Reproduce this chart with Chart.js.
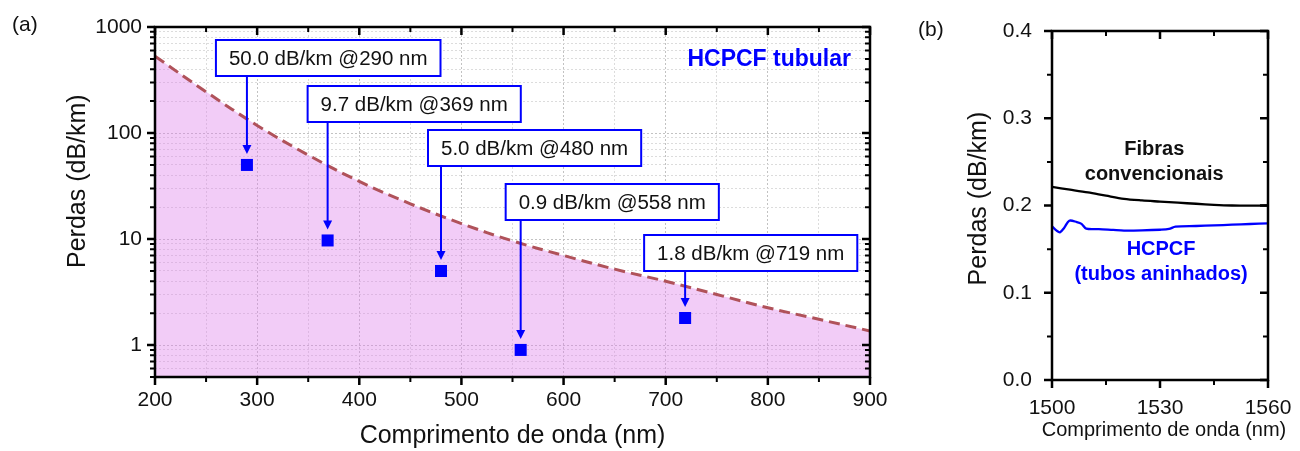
<!DOCTYPE html>
<html>
<head>
<meta charset="utf-8">
<script src="https://cdn.jsdelivr.net/npm/chart.js@4.4.1/dist/chart.umd.min.js"></script>
<style>
  body { margin: 0; background: #fff; }
  #wrapA { position: absolute; left: 0; top: 0; width: 900px; height: 451px; }
  #wrapB { position: absolute; left: 900px; top: 0; width: 400px; height: 451px; }
</style>
</head>
<body>
<div id="wrapA"><canvas id="chartA"></canvas></div>
<div id="wrapB"><canvas id="chartB"></canvas></div>
<script>
// ---- panel (a): HCPCF tubular ----
var curveWavelengths = [200, 250, 300, 350, 400, 450, 500, 550, 600, 650, 700, 750, 800, 850, 900];
var curveLoss = [530, 245, 118, 62, 35, 21.5, 14, 9.6, 7.0, 5.2, 4.0, 3.0, 2.25, 1.75, 1.36];
var pointWavelengths = [290, 369, 480, 558, 719];
var pointLoss = [50.0, 9.7, 5.0, 0.9, 1.8];
var pointLabels = ['50.0 dB/km @290 nm', '9.7 dB/km @369 nm', '5.0 dB/km @480 nm', '0.9 dB/km @558 nm', '1.8 dB/km @719 nm'];
var xMajorA = [200, 300, 400, 500, 600, 700, 800, 900];
var xMinorA = [250, 350, 450, 550, 650, 750, 850];
var yMajorA = [1, 10, 100, 1000];
var yMinorA = [0.5, 0.6, 0.7, 0.8, 0.9, 2, 3, 4, 5, 6, 7, 8, 9, 20, 30, 40, 50, 60, 70, 80, 90, 200, 300, 400, 500, 600, 700, 800, 900];

// ---- panel (b): 1500-1560 nm ----
var convWavelengths = [1500, 1505, 1510, 1515, 1520, 1525, 1530, 1535, 1540, 1545, 1550, 1555, 1560];
var convLoss = [0.2213, 0.2182, 0.2150, 0.2112, 0.2076, 0.2058, 0.2045, 0.2032, 0.2020, 0.2008, 0.2000, 0.1998, 0.2000];
var hcWavelengths = [1500, 1501.2, 1502.2, 1503.4, 1504.8, 1506.9, 1508.2, 1509.5, 1513, 1517, 1520, 1525, 1530, 1532.5, 1534.3, 1540, 1545, 1550, 1555, 1560];
var hcLoss = [0.1761, 0.1715, 0.1693, 0.1745, 0.1826, 0.181, 0.179, 0.1735, 0.173, 0.172, 0.1713, 0.1715, 0.1722, 0.1731, 0.1758, 0.1765, 0.1772, 0.178, 0.1788, 0.1795];
var xMajorB = [1500, 1530, 1560];
var xMinorB = [1515, 1545];
var yMajorB = [0.0, 0.1, 0.2, 0.3, 0.4];
var yMinorB = [0.05, 0.15, 0.25, 0.35];

var FONT = '"Liberation Sans", Arial, sans-serif';
var INK = '#111';

function setTicks(values) {
  return function (scale) {
    scale.ticks = values.slice().sort(function (a, b) { return a - b; })
      .map(function (v) { return { value: v }; });
  };
}

function isIn(list, v) {
  return list.some(function (m) { return Math.abs(m - v) < 1e-9; });
}

// frame + tick marks (outside bottom/left, inside top/right)
function frameTicks(t) {
  return {
    id: 'frameTicks',
    afterDatasetsDraw: function (chart) {
      var ctx = chart.ctx, a = chart.chartArea;
      var sx = chart.scales.x, sy = chart.scales.y;
      ctx.save();
      ctx.strokeStyle = '#000';
      function xt(v, len, w) {
        var p = sx.getPixelForValue(v);
        ctx.lineWidth = w;
        ctx.beginPath();
        ctx.moveTo(p, a.bottom); ctx.lineTo(p, a.bottom + len);
        ctx.moveTo(p, a.top); ctx.lineTo(p, a.top + len);
        ctx.stroke();
      }
      function yt(v, len, w) {
        var p = sy.getPixelForValue(v);
        ctx.lineWidth = w;
        ctx.beginPath();
        ctx.moveTo(a.left, p); ctx.lineTo(a.left - len, p);
        ctx.moveTo(a.right, p); ctx.lineTo(a.right - len, p);
        ctx.stroke();
      }
      t.xMajor.forEach(function (v) { xt(v, 8, 2.5); });
      t.xMinor.forEach(function (v) { xt(v, 5, 2); });
      t.yMajor.forEach(function (v) { yt(v, 8, 2.5); });
      t.yMinor.forEach(function (v) { yt(v, 5, 2); });
      ctx.lineWidth = 2.5;
      ctx.strokeRect(a.left, a.top, a.right - a.left, a.bottom - a.top);
      ctx.restore();
    }
  };
}

// callout boxes with arrows, panel (a)
var calloutLayout = [{ dx: 31, top: 13 }, { dx: 20, top: 59 }, { dx: 13, top: 103 }, { dx: 15, top: 157 }, { dx: 41, top: 208 }];
var callouts = {
  id: 'callouts',
  afterDraw: function (chart) {
    var ctx = chart.ctx, a = chart.chartArea;
    var sx = chart.scales.x, sy = chart.scales.y;
    ctx.save();
    ctx.font = '20.5px ' + FONT;
    ctx.textBaseline = 'middle';
    ctx.textAlign = 'center';
    pointLabels.forEach(function (txt, i) {
      var px = sx.getPixelForValue(pointWavelengths[i]);
      var py = sy.getPixelForValue(pointLoss[i]);
      var w = ctx.measureText(txt).width + 26, h = 36;
      var left = px - calloutLayout[i].dx, top = a.top + calloutLayout[i].top;
      var tip = py - 11;
      ctx.strokeStyle = '#0000ff';
      ctx.fillStyle = '#0000ff';
      ctx.lineWidth = 2;
      ctx.beginPath();
      ctx.moveTo(px, top + h); ctx.lineTo(px, tip - 8);
      ctx.stroke();
      ctx.beginPath();
      ctx.moveTo(px - 4.5, tip - 9); ctx.lineTo(px + 4.5, tip - 9); ctx.lineTo(px, tip);
      ctx.closePath(); ctx.fill();
      ctx.fillStyle = '#fff';
      ctx.fillRect(left, top, w, h);
      ctx.strokeRect(left, top, w, h);
      ctx.fillStyle = INK;
      ctx.fillText(txt, left + w / 2, top + h / 2 + 1);
    });
    ctx.font = 'bold 23px ' + FONT;
    ctx.fillStyle = '#0000ff';
    ctx.textAlign = 'right';
    ctx.fillText('HCPCF tubular', a.right - 19, a.top + 33);
    ctx.font = '21px ' + FONT;
    ctx.fillStyle = INK;
    ctx.textAlign = 'left';
    ctx.fillText('(a)', 12, 25);
    ctx.restore();
  }
};

var notesB = {
  id: 'notesB',
  afterDraw: function (chart) {
    var ctx = chart.ctx, a = chart.chartArea;
    var sx = chart.scales.x, sy = chart.scales.y;
    ctx.save();
    ctx.textAlign = 'center';
    ctx.textBaseline = 'middle';
    ctx.font = 'bold 20px ' + FONT;
    ctx.fillStyle = INK;
    var x1 = sx.getPixelForValue(1528.4), y1 = sy.getPixelForValue(0.264);
    ctx.fillText('Fibras', x1, y1);
    ctx.fillText('convencionais', x1, y1 + 25);
    ctx.fillStyle = '#0000ff';
    var x2 = sx.getPixelForValue(1530.3), y2 = sy.getPixelForValue(0.15);
    ctx.fillText('HCPCF', x2, y2);
    ctx.fillText('(tubos aninhados)', x2, y2 + 25);
    // x axis title wider than the plot
    ctx.fillStyle = INK;
    ctx.font = '20px ' + FONT;
    ctx.fillText('Comprimento de onda (nm)', (a.left + a.right) / 2 + 4, 430);
    ctx.font = '21px ' + FONT;
    ctx.textAlign = 'left';
    ctx.fillText('(b)', 18, 30);
    ctx.restore();
  }
};

function gridColor(majors) {
  return function (c) {
    return c.tick && isIn(majors, c.tick.value) ? '#c2c2c2' : '#dcdcdc';
  };
}

new Chart(document.getElementById('chartA'), {
  data: {
    datasets: [
      {
        type: 'line',
        data: curveWavelengths.map(function (w, i) { return { x: w, y: curveLoss[i] }; }),
        borderColor: '#b0525a',
        borderWidth: 3,
        borderDash: [11, 6],
        backgroundColor: 'rgba(222, 128, 235, 0.4)',
        fill: 'start',
        pointRadius: 0,
        tension: 0.4,
        order: 2
      },
      {
        type: 'scatter',
        data: pointWavelengths.map(function (w, i) { return { x: w, y: pointLoss[i] }; }),
        pointStyle: 'rect',
        pointRadius: 8.5,
        backgroundColor: '#0000ff',
        borderWidth: 0,
        order: 1
      }
    ]
  },
  options: {
    responsive: true,
    maintainAspectRatio: false,
    animation: false,
    layout: { padding: { top: 27, right: 30, left: 0, bottom: 0 } },
    plugins: { legend: { display: false }, tooltip: { enabled: false } },
    scales: {
      x: {
        type: 'linear', min: 200, max: 900,
        afterBuildTicks: setTicks(xMajorA.concat(xMinorA)),
        afterFit: function (s) { s.height = 74; },
        grid: { color: gridColor(xMajorA), lineWidth: 1, drawTicks: false },
        border: { display: false, dash: [2, 2] },
        ticks: {
          autoSkip: false, maxRotation: 0, padding: 11, color: INK,
          font: { family: FONT, size: 21 },
          callback: function (v) { return isIn(xMajorA, v) ? String(v) : ''; }
        },
        title: {
          display: true, text: 'Comprimento de onda (nm)', color: INK,
          font: { family: FONT, size: 25, lineHeight: 1 },
          padding: { top: 0, bottom: 2 }
        }
      },
      y: {
        type: 'logarithmic', min: 0.5, max: 1000,
        afterBuildTicks: setTicks(yMajorA.concat(yMinorA)),
        afterFit: function (s) { s.width = 155; },
        grid: { color: gridColor(yMajorA), lineWidth: 1, drawTicks: false },
        border: { display: false, dash: [2, 2] },
        ticks: {
          autoSkip: false, padding: 13, color: INK,
          font: { family: FONT, size: 21 },
          callback: function (v) { return isIn(yMajorA, v) ? String(v) : ''; }
        },
        title: {
          display: true, text: '      Perdas (dB/km)', color: INK,
          font: { family: FONT, size: 25, lineHeight: 1 },
          padding: { top: 66 }
        }
      }
    }
  },
  plugins: [frameTicks({ xMajor: xMajorA, xMinor: xMinorA, yMajor: yMajorA, yMinor: yMinorA }), callouts]
});

new Chart(document.getElementById('chartB'), {
  type: 'line',
  data: {
    datasets: [
      {
        label: 'Fibras convencionais',
        data: convWavelengths.map(function (w, i) { return { x: w, y: convLoss[i] }; }),
        borderColor: '#000', borderWidth: 2.3, pointRadius: 0, tension: 0.3
      },
      {
        label: 'HCPCF (tubos aninhados)',
        data: hcWavelengths.map(function (w, i) { return { x: w, y: hcLoss[i] }; }),
        borderColor: '#0000ff', borderWidth: 2.3, pointRadius: 0, tension: 0.3
      }
    ]
  },
  options: {
    responsive: true,
    maintainAspectRatio: false,
    animation: false,
    layout: { padding: { top: 31, right: 32, left: 0, bottom: 0 } },
    plugins: { legend: { display: false }, tooltip: { enabled: false } },
    scales: {
      x: {
        type: 'linear', min: 1500, max: 1560,
        afterBuildTicks: setTicks(xMajorB.concat(xMinorB)),
        afterFit: function (s) { s.height = 71; },
        grid: { display: false },
        border: { display: false },
        ticks: {
          autoSkip: false, maxRotation: 0, padding: 8, color: INK,
          font: { family: FONT, size: 21 },
          callback: function (v) { return isIn(xMajorB, v) ? String(v) : ''; }
        }
      },
      y: {
        type: 'linear', min: 0, max: 0.4,
        afterBuildTicks: setTicks(yMajorB.concat(yMinorB)),
        afterFit: function (s) { s.width = 152; },
        grid: { display: false },
        border: { display: false },
        ticks: {
          autoSkip: false, padding: 12, color: INK,
          font: { family: FONT, size: 21 },
          callback: function (v) { return isIn(yMajorB, v) ? v.toFixed(1) : ''; }
        },
        title: {
          display: true, text: '  Perdas (dB/km)', color: INK,
          font: { family: FONT, size: 25, lineHeight: 1 },
          padding: { top: 67 }
        }
      }
    }
  },
  plugins: [frameTicks({ xMajor: xMajorB, xMinor: xMinorB, yMajor: yMajorB, yMinor: yMinorB }), notesB]
});
</script>
</body>
</html>
